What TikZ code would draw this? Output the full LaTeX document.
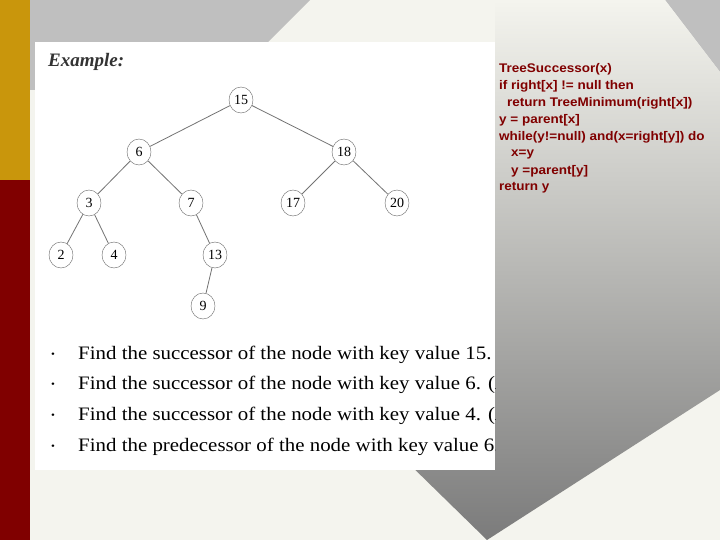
\documentclass[tikz,border=0pt]{standalone}
\usepackage{fontspec}
\usetikzlibrary{shapes.geometric}
\setmainfont{Liberation Serif}
\newfontfamily\codefont{Liberation Sans}
\definecolor{bgl}{HTML}{F4F4EE}
\definecolor{gold}{HTML}{C9960C}
\definecolor{dred}{HTML}{800000}
\begin{document}
\begin{tikzpicture}[x=1pt,y=-1pt,
  tn/.style={ellipse,draw=black!60,fill=white,minimum width=24pt,minimum height=26pt,inner sep=0pt,font=\fontsize{14}{14}\selectfont},
  ed/.style={draw=black!55,line width=0.8pt},
  bl/.style={anchor=west,font=\fontsize{19}{19}\selectfont,inner sep=0pt,xscale=1.1},
  cl/.style={anchor=west,font=\codefont\bfseries\fontsize{12.5}{12.5}\selectfont,text=dred,inner sep=0pt,xscale=1.08}]
\useasboundingbox (0,0) rectangle (720,540);
\fill[bgl] (0,0) rectangle (720,540);
\fill[gray!50] (30,0) -- (310,0) -- (220,90) -- (30,90) -- cycle;
\fill[gray!50] (665,0) -- (720,0) -- (720,72) -- cycle;
\shade[top color=bgl, bottom color=gray!85!black!90] (400,455) -- (487,540) -- (720,390) -- (720,72) -- (665,0) -- (495,0) -- (495,455) -- cycle;
\fill[dred] (0,180) rectangle (30,540);
\fill[gold] (0,0) rectangle (30,180);
\fill[white] (35,42) rectangle (495,470);
\node[anchor=west,font=\fontsize{19}{19}\selectfont\bfseries\itshape,text=black!80,inner sep=0pt] (ex) at (48,62) {Example:};
\node[tn] (n15) at (241,100) {15};
\node[tn] (n6) at (139,152) {6};
\node[tn] (n18) at (344,152) {18};
\node[tn] (n3) at (89,203) {3};
\node[tn] (n7) at (191,203) {7};
\node[tn] (n17) at (293,203) {17};
\node[tn] (n20) at (397,203) {20};
\node[tn] (n2) at (61,255) {2};
\node[tn] (n4) at (114,255) {4};
\node[tn] (n13) at (215,255) {13};
\node[tn] (n9) at (203,306) {9};
\foreach \a/\b in {n15/n6,n15/n18,n6/n3,n6/n7,n18/n17,n18/n20,n3/n2,n3/n4,n7/n13,n13/n9}
  \draw[ed] (\a) -- (\b);
\begin{scope}
\clip (35,42) rectangle (495,470);
\foreach \y/\t [count=\i] in {355/Find the successor of the node with key value 15. (Answer: Key 17),
  385/Find the successor of the node with key value 6. (Answer: Key 7),
  416/Find the successor of the node with key value 4. (Answer: Key 6),
  447/Find the predecessor of the node with key value 6. (Answer: Key 4)} {
  \node[bl,font=\fontsize{10}{10}\selectfont] (b\i) at (51,\y) {\textbullet};
  \node[bl] (t\i) at (78,\y) {\t};
}
\end{scope}
\node[cl] (c1) at (499,69) {TreeSuccessor(x)};
\node[cl] (c2) at (499,86) {if right[x] != null then};
\node[cl] (c3) at (507,103) {return TreeMinimum(right[x])};
\node[cl] (c4) at (499,120) {y = parent[x]};
\node[cl] (c5) at (499,137) {while(y!=null) and(x=right[y]) do};
\node[cl] (c6) at (511,154) {x=y};
\node[cl] (c7) at (511,171) {y =parent[y]};
\node[cl] (c8) at (499,188) {return y};
\end{tikzpicture}
\end{document}
